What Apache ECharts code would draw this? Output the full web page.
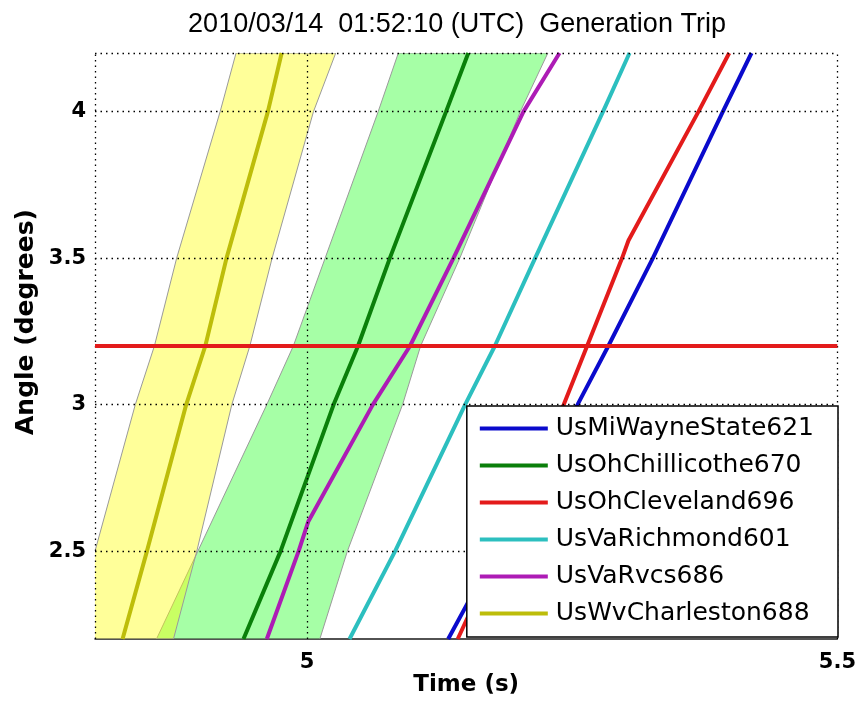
<!DOCTYPE html>
<html>
<head>
<meta charset="utf-8">
<title>Generation Trip</title>
<script src="https://cdn.jsdelivr.net/npm/echarts@6/dist/echarts.min.js"></script>
<style>
html, body { margin: 0; padding: 0; background: #fff; }
#chart { width: 859px; height: 711px; }
</style>
</head>
<body>
<div id="chart"></div>
<script>
// axis ranges and ticks
const timeMin = 4.8;
const timeMax = 5.5;
const angleMin = 2.2;
const angleMax = 4.2;
const timeTicks = [5, 5.5];
const angleTicks = [2.5, 3, 3.5, 4];
const tripAngle = 3.2;

const stationNames = ['UsMiWayneState621', 'UsOhChillicothe670', 'UsOhCleveland696',
    'UsVaRichmond601', 'UsVaRvcs686', 'UsWvCharleston688'];

// angle (degrees) against time (s), one pair of arrays per station
const wayneAngle = [2.2, 2.5, 3.0, 3.2, 3.5, 4.0, 4.2];
const wayneTime = [5.133, 5.178, 5.255, 5.284, 5.326, 5.392, 5.419];

const chillicotheAngle = [2.2, 2.5, 3.0, 3.2, 3.5, 4.0, 4.2];
const chillicotheTime = [4.940, 4.975, 5.025, 5.048, 5.078, 5.131, 5.152];

const clevelandAngle = [2.2, 2.6, 3.0, 3.2, 3.5, 3.56, 4.0, 4.2];
const clevelandTime = [5.142, 5.193, 5.242, 5.264, 5.297, 5.303, 5.369, 5.398];

const richmondAngle = [2.2, 2.5, 3.0, 3.2, 3.5, 4.0, 4.2];
const richmondTime = [5.040, 5.083, 5.149, 5.177, 5.215, 5.279, 5.304];

const rvcsAngle = [2.2, 2.5, 2.6, 3.0, 3.2, 3.5, 4.0, 4.2];
const rvcsTime = [4.962, 4.992, 5.001, 5.062, 5.097, 5.138, 5.204, 5.238];

const charlestonAngle = [2.2, 2.5, 3.0, 3.2, 3.5, 4.0, 4.2];
const charlestonTime = [4.826, 4.849, 4.886, 4.904, 4.924, 4.963, 4.976];

// spread bands (low / high time at each angle)
const bandAngle = [2.2, 2.5, 3.0, 3.2, 3.5, 4.0, 4.2];
const charlestonLow = [4.776, 4.800, 4.838, 4.856, 4.877, 4.918, 4.933];
const charlestonHigh = [4.874, 4.896, 4.929, 4.946, 4.967, 5.006, 5.027];
const chillicotheLow = [4.858, 4.897, 4.962, 4.987, 5.017, 5.067, 5.086];
const chillicotheHigh = [5.012, 5.038, 5.090, 5.107, 5.144, 5.201, 5.227];

let lineColors = ['#0a0acc', '#0a7f0a', '#e31b1b', '#2cbfbf', '#ad1cb5', '#bdbd0a'];
let tickFont = 'DejaVu Sans';

function zip(times, angles) {
    return times.map((t, i) => [t, angles[i]]);
}

// filled band between two edges, drawn as one polygon
function bandSeries(low, high, fill) {
    let lowPts = zip(low, bandAngle);
    let highPts = zip(high, bandAngle);
    return {
        type: 'custom',
        clip: true,
        silent: true,
        z: 1,
        data: lowPts.concat(highPts),
        renderItem: function (params, api) {
            if (params.dataIndex !== 0) {
                return null;
            }
            let pts = lowPts.concat(highPts.slice().reverse()).map(p => api.coord(p));
            return {
                type: 'polygon',
                shape: { points: pts },
                style: { fill: fill, stroke: '#9a9a9a', lineWidth: 1 }
            };
        }
    };
}

function stationSeries(i, times, angles) {
    return {
        type: 'line',
        name: stationNames[i],
        data: zip(times, angles),
        symbol: 'none',
        showSymbol: false,
        clip: true,
        z: 4,
        lineStyle: { color: lineColors[i], width: 4 },
        itemStyle: { color: lineColors[i] },
        emphasis: { disabled: true }
    };
}

let gridLines = [timeMin].concat(timeTicks).map(v => ({ xAxis: v }))
    .concat(angleTicks.concat([angleMax]).map(v => ({ yAxis: v })));

let option = {
    animation: false,
    backgroundColor: '#fff',
    title: {
        text: '2010/03/14  01:52:10 (UTC)  Generation Trip',
        left: 457,
        top: 11,
        textAlign: 'center',
        padding: 0,
        textStyle: {
            fontFamily: 'Liberation Sans',
            fontWeight: 'normal',
            fontSize: 27,
            color: '#000'
        }
    },
    grid: {
        left: 95,
        right: 21,
        top: 53,
        bottom: 72
    },
    legend: {
        orient: 'vertical',
        right: 21,
        top: 406,
        z: 20,
        icon: 'rect',
        itemWidth: 68,
        itemHeight: 4,
        itemGap: 12,
        padding: [10, 24, 11, 13],
        backgroundColor: '#fff',
        borderColor: '#000',
        borderWidth: 1.5,
        borderRadius: 0,
        selectedMode: false,
        data: stationNames,
        textStyle: {
            fontFamily: 'DejaVu Sans',
            fontSize: 25,
            color: '#000',
            padding: [0, 0, 0, 3]
        }
    },
    xAxis: {
        type: 'value',
        min: timeMin,
        max: timeMax,
        name: 'Time (s)',
        nameLocation: 'middle',
        nameGap: 35,
        nameMoveOverlap: false,
        nameTextStyle: {
            fontFamily: tickFont,
            fontWeight: 'bold',
            fontSize: 23,
            color: '#000'
        },
        axisLine: { show: true, onZero: false, lineStyle: { color: '#1a1a1a', width: 1.5 } },
        axisTick: { show: false },
        splitLine: { show: false },
        axisLabel: {
            customValues: timeTicks,
            formatter: v => String(v),
            fontFamily: tickFont,
            fontWeight: 'bold',
            fontSize: 21,
            color: '#000',
            margin: 13
        }
    },
    yAxis: {
        type: 'value',
        min: angleMin,
        max: angleMax,
        axisLine: { show: false },
        axisTick: { show: false },
        splitLine: { show: false },
        axisLabel: {
            customValues: angleTicks,
            formatter: v => String(v),
            fontFamily: tickFont,
            fontWeight: 'bold',
            fontSize: 21,
            color: '#000',
            margin: 9
        }
    },
    graphic: [
        {
            type: 'text',
            x: 26,
            y: 322,
            rotation: Math.PI / 2,
            style: {
                text: 'Angle (degrees)',
                font: 'bold 25px "DejaVu Sans"',
                fill: '#000',
                align: 'center',
                verticalAlign: 'middle'
            }
        }
    ],
    series: [
        bandSeries(chillicotheLow, chillicotheHigh, 'rgba(0, 255, 0, 0.35)'),
        bandSeries(charlestonLow, charlestonHigh, 'rgba(255, 255, 0, 0.4)'),
        { // dotted grid
            type: 'line',
            data: [],
            silent: true,
            z: 2,
            markLine: {
                silent: true,
                symbol: 'none',
                label: { show: false },
                lineStyle: { color: '#000', width: 1.3, type: [1.5, 4] },
                data: gridLines
            }
        },
        { // trip threshold
            type: 'line',
            data: [],
            silent: true,
            z: 3,
            markLine: {
                silent: true,
                symbol: 'none',
                label: { show: false },
                lineStyle: { color: '#e31b1b', width: 4, type: 'solid' },
                data: [{ yAxis: tripAngle }]
            }
        },
        stationSeries(0, wayneTime, wayneAngle),
        stationSeries(1, chillicotheTime, chillicotheAngle),
        stationSeries(2, clevelandTime, clevelandAngle),
        stationSeries(3, richmondTime, richmondAngle),
        stationSeries(4, rvcsTime, rvcsAngle),
        stationSeries(5, charlestonTime, charlestonAngle)
    ]
};

let myChart = echarts.init(document.getElementById('chart'));
myChart.setOption(option);
</script>
</body>
</html>
